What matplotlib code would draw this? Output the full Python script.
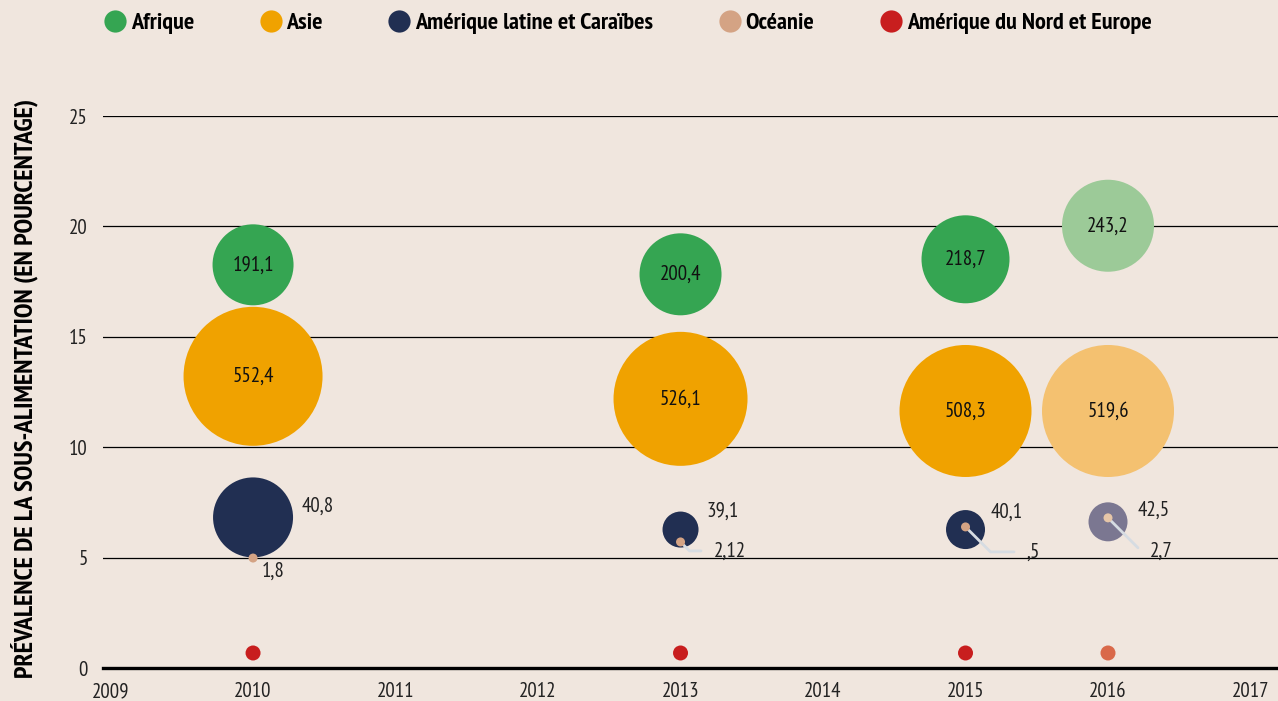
import matplotlib
matplotlib.use("Agg")
import matplotlib.pyplot as plt
from matplotlib import font_manager
from matplotlib.lines import Line2D

# pick a narrow sans (with a bold face) if one is installed, else plain DejaVu at smaller sizes
fonts = font_manager.fontManager.ttflist
def is_narrow(f):
    return 'Narrow' in f.name or 'Condensed' in f.name
def is_bold(f):
    return str(f.weight) in ('700', 'bold', '800', '900', 'heavy', 'black', 'extra bold')
narrow_bold = sorted({f.name for f in fonts if is_narrow(f) and is_bold(f)}, key=len)
narrow = sorted({f.name for f in fonts if is_narrow(f)}, key=len)
if narrow_bold:
    FONT, K = narrow_bold[0], 1.0
elif narrow:
    FONT, K = narrow[0], 1.0
else:
    FONT, K = 'DejaVu Sans', 0.8
plt.rcParams['font.family'] = [FONT, 'DejaVu Sans']

# data
years = [2010, 2013, 2015, 2016]
regions = ["Afrique", "Asie", "Amérique latine et Caraïbes", "Océanie", "Amérique du Nord et Europe"]
afrique = [18.26, 17.83, 18.51, 20.03]
asie = [13.21, 12.19, 11.64, 11.64]
amlat = [6.82, 6.27, 6.27, 6.62]
oceanie = [4.98, 5.71, 6.39, 6.80]
nord_europe = [0.68, 0.68, 0.68, 0.68]
afrique_lbl = ["191,1", "200,4", "218,7", "243,2"]
asie_lbl = ["552,4", "526,1", "508,3", "519,6"]
amlat_lbl = ["40,8", "39,1", "40,1", "42,5"]
oceanie_lbl = ["1,8", "2,12", ",5", "2,7"]

# styles
BG = "#f0e6de"
green, green_l = "#35a552", "#9cca98"
orange, orange_l = "#f0a200", "#f4c170"
navy, navy_l = "#212f52", "#7b7791"
ocea, ocea_l = "#d4a384", "#e6c6a8"
red, red_l = "#c81e1e", "#d9694a"
leader = "#d6dce2"

# bubble radii in pixels (dpi=100)
r_afr = [40.5, 41, 44, 46]
r_asi = [69.5, 67, 66, 66]
r_lat = [40, 18, 19.5, 19.5]
r_oce = [4.5, 4.5, 4.5, 4.5]
r_ne = [7.5, 7.5, 7.5, 7.5]

def s_of(r):
    return [(2 * v * 0.72) ** 2 for v in r]

fig = plt.figure(figsize=(12.78, 7.01), dpi=100, facecolor=BG)
ax = fig.add_axes([103/1278, 33/701, 1 - 103/1278, (668-116)/701])
ax.set_facecolor(BG)

ax.set_xlim(2008.947, 2017.193)
ax.set_ylim(0, 25)
ax.set_xticks(range(2009, 2018))
ax.set_yticks([0, 5, 10, 15, 20, 25])
ax.tick_params(axis='both', length=0, labelsize=15 * K, colors='#222222')
ax.tick_params(axis='x', pad=10)
ax.tick_params(axis='y', pad=11)
for sp in ['top', 'right', 'left']:
    ax.spines[sp].set_visible(False)
ax.spines['bottom'].set_linewidth(2.4)
ax.spines['bottom'].set_color('black')
ax.yaxis.grid(True, color='black', lw=0.9)
ax.set_axisbelow(True)

ax.scatter(years, afrique, s=s_of(r_afr), c=[green, green, green, green_l], lw=0, zorder=3, clip_on=False)
ax.scatter(years, asie, s=s_of(r_asi), c=[orange, orange, orange, orange_l], lw=0, zorder=3, clip_on=False)
ax.scatter(years, amlat, s=s_of(r_lat), c=[navy, navy, navy, navy_l], lw=0, zorder=3)
ax.scatter(years, oceanie, s=s_of(r_oce), c=[ocea, ocea, ocea, ocea_l], lw=0, zorder=5)
ax.scatter(years, nord_europe, s=s_of(r_ne), c=[red, red, red, red_l], lw=0, zorder=3, clip_on=False)

LBL = 15 * K
for x, y, t in zip(years, afrique, afrique_lbl):
    ax.text(x, y, t, ha='center', va='center', fontsize=LBL, color='#111111', zorder=6)
for x, y, t in zip(years, asie, asie_lbl):
    ax.text(x, y, t, ha='center', va='center', fontsize=LBL, color='#111111', zorder=6)

lat_off = [(49, 11.5), (26, 18.5), (25, 17.5), (30, 12)]
for x, y, t, (dx, dy) in zip(years, amlat, amlat_lbl, lat_off):
    ax.annotate(t, (x, y), xytext=(dx * 0.72, dy * 0.72), textcoords='offset points',
                ha='left', va='center', fontsize=LBL, color='#222222')

oce_off = [(9, -13), (33, -9), (61, -25), (42, -33)]
oce_leader = [False, True, True, True]
for x, y, t, (dx, dy), ld in zip(years, oceanie, oceanie_lbl, oce_off, oce_leader):
    ap = None
    if ld:
        ap = dict(arrowstyle='-', color=leader, lw=2, relpos=(0, 0.5), shrinkA=7, shrinkB=0,
                  connectionstyle='angle,angleA=180,angleB=-45,rad=0')
    ax.annotate(t, (x, y), xytext=(dx * 0.72, dy * 0.72), textcoords='offset points',
                ha='left', va='center', fontsize=LBL, color='#222222', arrowprops=ap, zorder=4)

ax.set_ylabel("PRÉVALENCE DE LA SOUS-ALIMENTATION (EN POURCENTAGE)", fontsize=11.3 if K < 0.9 else 19,
              fontweight='bold', color='black')
ax.yaxis.set_label_coords(-(103 - 38) / 1175, (668 - 388) / 552)

handles = [Line2D([], [], ls='none', marker='o', markersize=16, markeredgewidth=0, color=c)
           for c in [green, orange, navy, ocea, red]]
LEG = 12 if K < 0.9 else 17.5
fig.legend(handles, regions, loc='center left', bbox_to_anchor=(101/1278, 1 - 23/701),
           ncol=5, frameon=False, borderpad=0, borderaxespad=0, handlelength=20 / LEG,
           handletextpad=1.5 / LEG, columnspacing=45 / LEG,
           prop=dict(family=[FONT, 'DejaVu Sans'], weight='bold', size=LEG))

fig.savefig("out.png", dpi=100, facecolor=BG)
